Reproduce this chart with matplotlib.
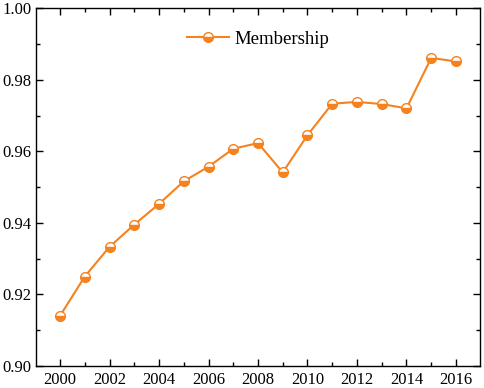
import matplotlib.pyplot as plt
from matplotlib.ticker import MultipleLocator

plt.rcParams['font.family'] = ['Liberation Serif', 'DejaVu Serif']

years = [2000, 2001, 2002, 2003, 2004, 2005, 2006, 2007, 2008,
         2009, 2010, 2011, 2012, 2013, 2014, 2015, 2016]
membership = [0.9140, 0.9250, 0.9333, 0.9395, 0.9453, 0.9516, 0.9557, 0.9607, 0.9623,
              0.9541, 0.9645, 0.9733, 0.9738, 0.9732, 0.9720, 0.9861, 0.9851]

orange = '#F5821F'

fig = plt.figure(figsize=(4.84, 3.88), dpi=100)
ax = fig.add_axes([0.0744, 0.0567, 0.9173, 0.9223])

ax.plot(years, membership, color=orange, lw=1.5, marker='o', markersize=7,
        fillstyle='bottom', markerfacecolor=orange, markerfacecoloralt='white',
        markeredgecolor=orange, markeredgewidth=1.0, label='Membership')

ax.set_xlim(1999.03, 2016.97)
ax.set_ylim(0.90, 1.00)
ax.xaxis.set_major_locator(MultipleLocator(2))
ax.xaxis.set_minor_locator(MultipleLocator(1))
ax.yaxis.set_major_locator(MultipleLocator(0.02))
ax.yaxis.set_minor_locator(MultipleLocator(0.01))
ax.yaxis.set_major_formatter(plt.FormatStrFormatter('%.2f'))

ax.tick_params(which='both', direction='in', top=True, right=True, labelsize=12)
ax.tick_params(which='major', length=5, width=1)
ax.tick_params(which='minor', length=3, width=1)
ax.tick_params(axis='x', which='major', pad=4.5)
for s in ax.spines.values():
    s.set_linewidth(1.0)

ax.legend(loc='upper center', frameon=False, fontsize=13.5,
          bbox_to_anchor=(0.5, 0.985), handlelength=2.25, handletextpad=0.3)

fig.savefig('out.png', dpi=100)
